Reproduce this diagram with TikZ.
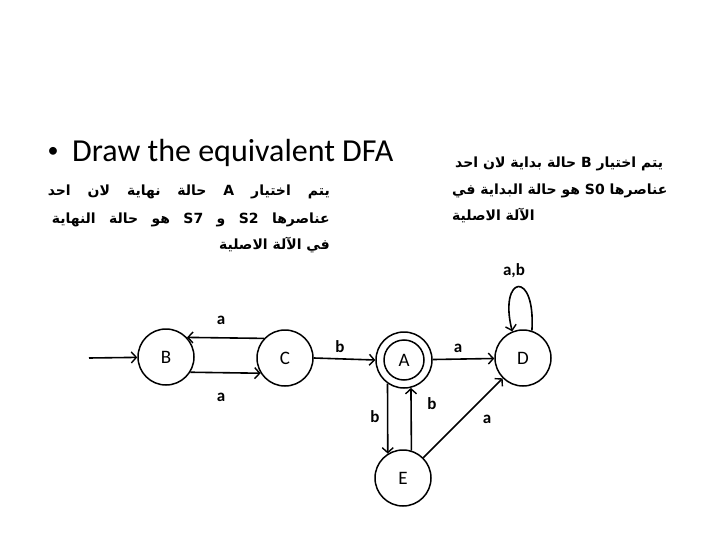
\documentclass[tikz,border=0pt]{standalone}
\usepackage{fontspec}
\setmainfont{Carlito}
\newfontfamily\arabicfont[Script=Arabic]{DejaVu Sans}
\TeXXeTstate=1
\usetikzlibrary{arrows.meta}
\begin{document}
\begin{tikzpicture}[x=1pt,y=-1pt,
  state/.style={circle,draw,line width=1.5pt,minimum size=56pt,inner sep=0pt,font=\fontsize{19}{19}\selectfont},
  inner/.style={circle,draw,line width=1.5pt,minimum size=40pt,inner sep=0pt},
  edge/.style={line width=1.6pt,-{Straight Barb[length=5pt,width=11pt,line width=1.4pt]}},
  lbl/.style={inner sep=0pt,font=\bfseries\fontsize{17}{17}\selectfont},
  ar/.style={inner sep=0pt,font=\arabicfont\bfseries\fontsize{14}{14}\selectfont}]
\useasboundingbox[fill=white] (0,0) rectangle (720,540);
% title
\node[inner sep=0pt,font=\fontsize{22}{22}\selectfont] (bul) at (53,152) {\textbullet};
\node[inner sep=0pt,anchor=base west,font=\fontsize{32}{32}\selectfont] (title) at (72,162) {Draw the equivalent DFA};
% left arabic block
\node[ar,anchor=base east] (l1) at (330,196) {\makebox[282pt][s]{\beginR يتم اختيار \textbf{A} حالة نهاية لان احد\endR}};
\node[ar,anchor=base east] (l2) at (330,223) {\makebox[278pt][s]{\beginR عناصرها \textbf{S2} و \textbf{S7} هو حالة النهاية\endR}};
\node[ar,anchor=base east] (l3) at (330,249) {\beginR في الآلة الاصلية\endR};
% right arabic block
\node[ar,anchor=base west] (r1) at (455,168) {\beginR يتم اختيار \textbf{B} حالة بداية لان احد\endR};
\node[ar,anchor=base west] (r2) at (452,195) {\beginR عناصرها \textbf{S0} هو حالة البداية في\endR};
\node[ar,anchor=base west] (r3) at (452,221) {\beginR الآلة الاصلية\endR};
% states
\node[state] (B) at (166,357) {B};
\node[state] (C) at (285,358) {C};
\node[state] (A) at (404,360) {A};
\node[inner] (Ai) at (404,360) {};
\node[state] (D) at (523,358) {D};
\node[state] (E) at (403,478) {E};
\coordinate (start) at (89,358);
% edges
\draw[edge] (start) -- (B);
\draw[edge] (C.137) -- (B.43);
\draw[edge] (B.-32) -- (C.-148);
\draw[edge] (C.east) -- (A.west);
\draw[edge] (A) -- (D);
\draw[edge] (A.-125) -- (E.122);
\draw[edge] (E.73) -- (A.-76);
\draw[edge] (E) -- (D);
\draw[edge] (D.72) .. controls +(4,-62) and +(-14,-56) .. (D.112);
% labels
\node[lbl] (la1) at (221,320) {a};
\node[lbl] (la2) at (221,397) {a};
\node[lbl] (lb1) at (340,347) {b};
\node[lbl] (la3) at (458,348) {a};
\node[lbl] (lb2) at (375,417) {b};
\node[lbl] (lb3) at (432,404) {b};
\node[lbl] (la4) at (487,419) {a};
\node[lbl] (lab) at (514,271) {a,b};
\end{tikzpicture}
\end{document}
